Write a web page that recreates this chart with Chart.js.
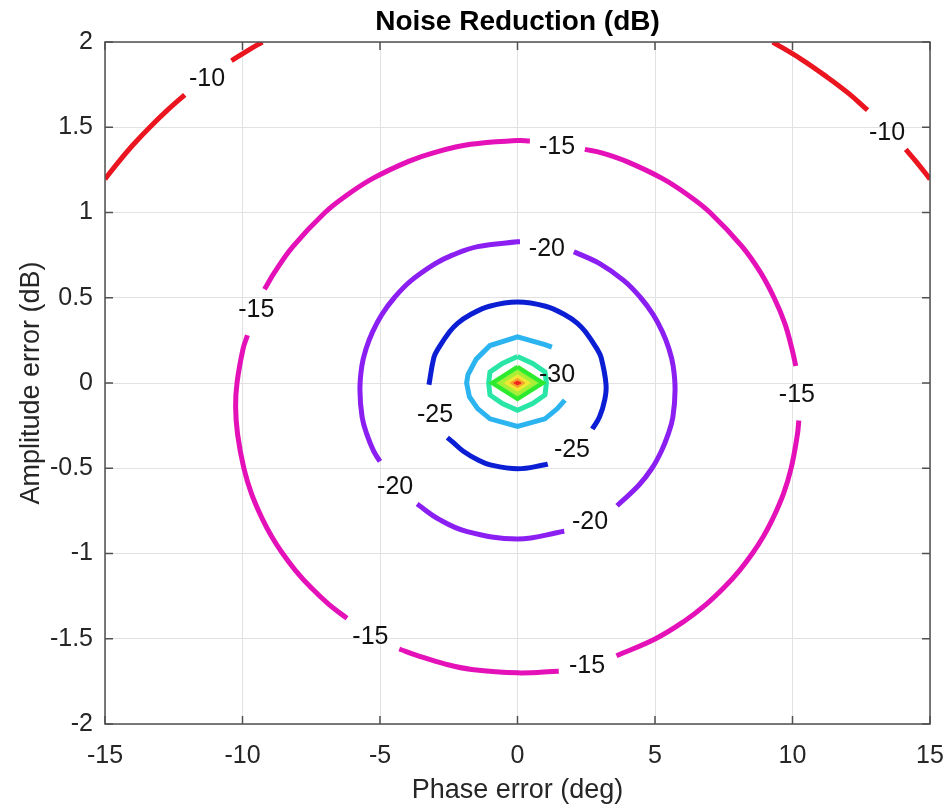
<!DOCTYPE html>
<html>
<head>
<meta charset="utf-8">
<script src="https://cdn.jsdelivr.net/npm/chart.js@4.4.1/dist/chart.umd.min.js"></script>
<style>
  html, body { margin: 0; padding: 0; background: #fff; }
  #wrap { width: 945px; height: 808px; }
</style>
</head>
<body>
<div id="wrap"><canvas id="nr" width="945" height="808"></canvas></div>
<script>
// Noise reduction contours: phase error (deg) vs amplitude error (dB)

const xTicks = [-15, -10, -5, 0, 5, 10, 15];
const yTicks = [-2, -1.5, -1, -0.5, 0, 0.5, 1, 1.5, 2];

// contour lines (null = gap for a label)
const c10Phase = [-15, -14.49, -13.96, -13.37, -12.73, -12.1, null, -10.4, -9.81, -9.28, null,
  9.28, 10.31, 11.21, 12.03, 12.73, null, 14.12, 14.49, 15];
const c10Amp = [1.196, 1.3, 1.4, 1.5, 1.6, 1.69, null, 1.89, 1.95, 2.0, null,
  2.0, 1.9, 1.8, 1.7, 1.6, null, 1.37, 1.3, 1.196];

const c15Phase = [2.45, 3.06, 3.96, 5.26, 6.22, 7.0, 8.17, 8.83, 9.33, 9.72, 9.98, 10.12, null,
  10.23, 10.18, 9.95, 9.67, 9.27, 8.94, 8.54, 8.07, 7.51, 6.85, 6.04, 5.02, 3.6, null,
  1.5, 0, -1.67, -2.59, -3.61, -4.3, null,
  -6.2, -6.85, -7.51, -8.07, -8.54, -8.94, -9.27, -9.67, -9.95, -10.18, -10.25, -10.2, -9.98, -9.82, null,
  -9.2, -8.83, -8.17, -7.0, -6.22, -5.26, -3.96, -3.06, -1.71, 0, 0.45];
const c15Amp = [1.37, 1.35, 1.3, 1.2, 1.1, 1.0, 0.8, 0.65, 0.5, 0.35, 0.2, 0.1, null,
  -0.22, -0.3, -0.5, -0.65, -0.8, -0.9, -1.0, -1.1, -1.2, -1.3, -1.4, -1.5, -1.6, null,
  -1.69, -1.70, -1.68, -1.65, -1.6, -1.56, null,
  -1.38, -1.3, -1.2, -1.1, -1.0, -0.9, -0.8, -0.65, -0.5, -0.3, -0.14, 0, 0.2, 0.28, null,
  0.55, 0.65, 0.8, 1.0, 1.1, 1.2, 1.3, 1.35, 1.4, 1.422, 1.42];

const c20Phase = [2.05, 2.99, 3.87, 4.48, 4.94, 5.27, 5.51, 5.66, 5.73, 5.65, 5.48, 5.23, 4.89, 4.41, 3.62, null,
  1.7, 0, -1.86, -2.85, -3.65, null,
  -5.0, -5.23, -5.48, -5.65, -5.73, -5.66, -5.51, -5.27, -4.94, -4.48, -3.87, -2.99, -2.37, -1.45, 0, 0.09];
const c20Amp = [0.77, 0.7, 0.6, 0.5, 0.4, 0.3, 0.2, 0.1, -0.04, -0.2, -0.3, -0.4, -0.5, -0.6, -0.72, null,
  -0.87, -0.915, -0.87, -0.8, -0.71, null,
  -0.46, -0.4, -0.3, -0.2, -0.04, 0.1, 0.2, 0.3, 0.4, 0.5, 0.6, 0.7, 0.75, 0.8, 0.828, 0.828];

const c25Phase = [-3.22, -3.04, -2.89, -2.47, -2.18, -1.72, -1.02, 0, 1.02, 1.72, 2.18, 2.47, 2.89, 3.04, 3.22, 3.17, 2.98, 2.72, null,
  -2.55, -2.33, -1.97, -1.45, -0.99, 0, 0.99, 1.1];
const c25Amp = [-0.01, 0.15, 0.2, 0.3, 0.35, 0.4, 0.45, 0.475, 0.45, 0.4, 0.35, 0.3, 0.2, 0.15, -0.01, -0.1, -0.2, -0.27, null,
  -0.32, -0.35, -0.4, -0.45, -0.48, -0.503, -0.48, -0.475];

const c30Phase = [1.25, 1.0, 0, -1.0, -1.5, -1.8, -1.85, -1.75, -1.45, -1.0, 0, 1.0, 1.45, 1.72];
const c30Amp = [0.21, 0.225, 0.27, 0.22, 0.14, 0.05, 0, -0.08, -0.15, -0.21, -0.255, -0.21, -0.15, -0.1];

const c35Phase = [0, -0.55, -1.0, -1.05, -1.0, -0.55, 0, 0.55, 1.0, 1.05, 1.0, 0.55, 0];
const c35Amp = [0.155, 0.115, 0.065, 0, -0.07, -0.12, -0.16, -0.12, -0.07, 0, 0.065, 0.115, 0.155];

// centre diamonds, outermost (-40 dB) first
const diamondHalfPhase = [0.93, 0.72, 0.47, 0.27, 0.13];
const diamondHalfAmp = [0.095, 0.073, 0.048, 0.027, 0.011];
const diamondFill = ['#62f23e', '#a9ef36', '#f1e834', '#f6a02e', '#f0261e'];

// labels on the contours
const labelText = ['-10', '-10', '-15', '-15', '-15', '-15', '-15', '-20', '-20', '-20', '-25', '-25', '-30'];
const labelPhase = [-11.29, 13.44, 1.44, -9.5, 10.16, -5.35, 2.53, 1.07, -4.45, 2.64, -3.0, 1.98, 1.44];
const labelAmp = [1.78, 1.466, 1.384, 0.43, -0.07, -1.49, -1.66, 0.786, -0.61, -0.815, -0.188, -0.393, 0.047];

const FONT = '"Liberation Sans", Arial, Helvetica, sans-serif';
const TEXT = '#262626';

function toPoints(xs, ys) {
  return xs.map((x, i) => ({ x: x, y: ys[i] }));
}

function contour(xs, ys, color, smooth) {
  return {
    data: toPoints(xs, ys),
    showLine: true,
    borderColor: color,
    borderWidth: 5,
    pointRadius: 0,
    fill: false,
    spanGaps: false,
    tension: smooth ? 0.4 : 0,
    clip: 0
  };
}

const datasets = [];
// inner diamonds first so they sit on top
for (let i = diamondHalfPhase.length - 1; i >= 0; i--) {
  const w = diamondHalfPhase[i], h = diamondHalfAmp[i];
  datasets.push({
    data: toPoints([0, -w, 0, w, 0], [h, 0, -h, 0, h]),
    showLine: true,
    borderColor: i === 0 ? '#2eea2e' : diamondFill[i],
    borderWidth: i === 0 ? 4 : 1,
    backgroundColor: diamondFill[i],
    fill: 'shape',
    pointRadius: 0,
    tension: 0,
    clip: 0
  });
}
datasets.push(contour(c35Phase, c35Amp, '#2ae6a6', false));
datasets.push(contour(c30Phase, c30Amp, '#2bb4ef', false));
datasets.push(contour(c25Phase, c25Amp, '#0b1ed4', true));
datasets.push(contour(c20Phase, c20Amp, '#8b1ff2', true));
datasets.push(contour(c15Phase, c15Amp, '#e410b8', true));
datasets.push(contour(c10Phase, c10Amp, '#eb1520', true));

// box, inward ticks and contour labels
const axisFrame = {
  id: 'axisFrame',
  afterDatasetsDraw(chart) {
    const { ctx, chartArea: a, scales: { x, y } } = chart;
    ctx.save();
    ctx.strokeStyle = '#505050';
    ctx.lineWidth = 1.5;
    ctx.strokeRect(a.left, a.top, a.right - a.left, a.bottom - a.top);
    ctx.beginPath();
    xTicks.forEach(v => {
      const px = x.getPixelForValue(v);
      ctx.moveTo(px, a.bottom); ctx.lineTo(px, a.bottom - 8);
      ctx.moveTo(px, a.top); ctx.lineTo(px, a.top + 8);
    });
    yTicks.forEach(v => {
      const py = y.getPixelForValue(v);
      ctx.moveTo(a.left, py); ctx.lineTo(a.left + 8, py);
      ctx.moveTo(a.right, py); ctx.lineTo(a.right - 8, py);
    });
    ctx.stroke();

    ctx.fillStyle = '#111';
    ctx.font = '25px ' + FONT;
    ctx.textAlign = 'center';
    ctx.textBaseline = 'middle';
    labelText.forEach((t, i) => {
      ctx.fillText(t, x.getPixelForValue(labelPhase[i]), y.getPixelForValue(labelAmp[i]));
    });
    ctx.restore();
  }
};

new Chart(document.getElementById('nr'), {
  type: 'scatter',
  data: { datasets },
  options: {
    responsive: false,
    animation: false,
    events: [],
    layout: { padding: { left: 0, right: 15, top: 0, bottom: 0 } },
    plugins: {
      legend: { display: false },
      tooltip: { enabled: false },
      title: {
        display: true,
        text: 'Noise Reduction (dB)',
        fullSize: false,
        color: '#000',
        font: { family: FONT, size: 28, weight: 'bold' },
        padding: { top: 5, bottom: 3.4 }
      }
    },
    scales: {
      x: {
        type: 'linear',
        min: -15,
        max: 15,
        afterBuildTicks: s => { s.ticks = xTicks.map(v => ({ value: v })); },
        afterFit: s => { s.height = 84; s.paddingLeft = 0; s.paddingRight = 0; },
        ticks: { color: TEXT, font: { family: FONT, size: 25 }, padding: 17, maxRotation: 0, autoSkip: false,
          callback: v => String(v) },
        grid: { color: '#e2e2e2', drawTicks: false },
        border: { display: false },
        title: {
          display: true,
          text: 'Phase error (deg)',
          color: TEXT,
          font: { family: FONT, size: 27 },
          padding: { top: 0, bottom: 1 }
        }
      },
      y: {
        type: 'linear',
        min: -2,
        max: 2,
        afterBuildTicks: s => { s.ticks = yTicks.map(v => ({ value: v })); },
        afterFit: s => { s.width = 105; s.paddingTop = 0; s.paddingBottom = 0; },
        ticks: { color: TEXT, font: { family: FONT, size: 25 }, padding: 12, autoSkip: false,
          callback: v => String(v) },
        grid: { color: '#e2e2e2', drawTicks: false },
        border: { display: false },
        title: {
          display: true,
          text: 'Amplitude error (dB)',
          color: TEXT,
          font: { family: FONT, size: 27 },
          padding: { top: 15, bottom: 0 }
        }
      }
    }
  },
  plugins: [axisFrame]
});
</script>
</body>
</html>
